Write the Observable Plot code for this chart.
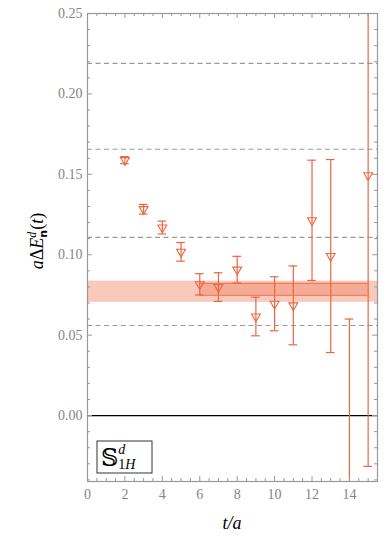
<!DOCTYPE html>
<html><head><meta charset="utf-8">
<script src="https://cdn.jsdelivr.net/npm/d3@7"></script>
<script src="https://cdn.jsdelivr.net/npm/@observablehq/plot@0.6"></script>
<style>
body{margin:0;background:#fff;}
#chart{width:390px;height:539px;}
</style></head><body><div id="chart"></div>
<script>
// ---- data ----
const tValues  = [2, 3, 4, 5, 6, 7, 8, 9, 10, 11, 12, 13, 14, 15];
const energies = [0.1588, 0.1283, 0.1169, 0.1018, 0.0816, 0.0799, 0.0907, 0.0616, 0.0695, 0.0685, 0.1214, 0.0992, -0.070, 0.1494];
const errors   = [0.0022, 0.0030, 0.0040, 0.0058, 0.0066, 0.0089, 0.0083, 0.0120, 0.0168, 0.0245, 0.0374, 0.0600, 0.130, 0.181];
const levels   = [0.219, 0.1656, 0.1108, 0.056];          // dashed reference levels
const wideBand = [0.0704, 0.0836];                        // light band (full range)
const fitBand  = [0.0747, 0.0822];                        // fit result band
const fitRange = [6, 15];                                 // fit window in t/a
const xDomain  = [0, 15.5];
const yDomain  = [-0.041, 0.25];
const xMajor   = [0, 2, 4, 6, 8, 10, 12, 14];
const yMajor   = [0, 0.05, 0.10, 0.15, 0.20, 0.25];

const points = tValues.map((t, i) => ({t, e: energies[i], lo: energies[i] - errors[i], hi: energies[i] + errors[i]}));

const W = 390, H = 539, mL = 87, mR = 13, mT = 13, mB = 58;
const pxX = (W - mL - mR) / (xDomain[1] - xDomain[0]);
const pxY = (H - mT - mB) / (yDomain[1] - yDomain[0]);
const xMinor = d3.range(0, xDomain[1] + 1e-9, 0.5);
const yMinor = d3.range(-4, 26).map(k => k / 100);
const isMajX = v => Math.abs(v / 2 - Math.round(v / 2)) < 1e-9;
const isMajY = v => Math.abs(v / 0.05 - Math.round(v / 0.05)) < 1e-6;
const tl = (maj) => maj ? 5 : 3;

const C = "#ec6640";
const cap = 0.23;
const SERIF = "'Liberation Serif', 'DejaVu Serif', serif";

const fig = Plot.plot({
  width: W, height: H,
  marginLeft: mL, marginRight: mR, marginTop: mT, marginBottom: mB,
  style: {fontFamily: SERIF, fontSize: "14px", background: "white"},
  x: {domain: xDomain, axis: null},
  y: {domain: yDomain, axis: null},
  marks: [
    Plot.rect([wideBand], {x1: xDomain[0], x2: xDomain[1], y1: d => d[0], y2: d => d[1], fill: "#f9c9bb"}),
    Plot.rect([fitBand], {x1: fitRange[0], x2: fitRange[1], y1: d => d[0], y2: d => d[1], fill: C, fillOpacity: 0.3}),
    Plot.ruleY(fitBand, {x1: fitRange[0], x2: fitRange[1], stroke: C, strokeOpacity: 0.7, strokeWidth: 1.3}),
    Plot.ruleY(levels, {stroke: "#9a9a9a", strokeDasharray: "5,3.5", strokeWidth: 1.2}),
    Plot.ruleY([0], {stroke: "black", strokeWidth: 1.3}),
    Plot.ruleX(points, {x: "t", y1: "lo", y2: "hi", stroke: C, strokeWidth: 1.2, clip: true}),
    Plot.ruleY(points, {y: "lo", x1: d => d.t - cap, x2: d => d.t + cap, stroke: C, strokeWidth: 1.2, clip: true}),
    Plot.ruleY(points, {y: "hi", x1: d => d.t - cap, x2: d => d.t + cap, stroke: C, strokeWidth: 1.2, clip: true}),
    Plot.dot(points, {x: "t", y: "e", symbol: "triangle", rotate: 180, r: 3.3, stroke: C, fill: "none", strokeWidth: 1.1, clip: true}),
    // frame ticks (inward)
    Plot.ruleX(xMinor, {x: d => d, y1: yDomain[0], y2: d => yDomain[0] + tl(isMajX(d)) / pxY, stroke: "#999"}),
    Plot.ruleX(xMinor, {x: d => d, y1: yDomain[1], y2: d => yDomain[1] - tl(isMajX(d)) / pxY, stroke: "#999"}),
    Plot.ruleY(yMinor, {y: d => d, x1: xDomain[0], x2: d => xDomain[0] + tl(isMajY(d)) / pxX, stroke: "#999"}),
    Plot.ruleY(yMinor, {y: d => d, x1: xDomain[1], x2: d => xDomain[1] - tl(isMajY(d)) / pxX, stroke: "#999"}),
    Plot.frame({stroke: "#999", strokeWidth: 1.2}),
    Plot.axisX({ticks: xMajor, tickSize: 0, tickPadding: 8, tickFormat: d => String(d), color: "#858585", label: null, fontSize: 14, fontFamily: SERIF}),
    Plot.axisY({ticks: yMajor, tickSize: 0, tickPadding: 5, tickFormat: d3.format(".2f"), color: "#858585", label: null, fontSize: 14, fontFamily: SERIF})
  ]
});

const svg = d3.select(fig);
svg.selectAll("text").attr("font-family", SERIF);
// x title
svg.append("text").attr("x", (mL + W - mR) / 2).attr("y", 529).attr("text-anchor", "middle")
  .attr("font-family", SERIF).attr("font-size", 18).attr("font-style", "italic").attr("fill", "black")
  .text("t/a");
// y title
const yt = svg.append("text").attr("transform", `translate(43,${(mT + H - mB) / 2 - 6}) rotate(-90)`)
  .attr("text-anchor", "middle").attr("font-family", SERIF).attr("font-size", 18).attr("fill", "black");
yt.append("tspan").attr("font-style", "italic").text("a");
yt.append("tspan").text("Δ");
yt.append("tspan").attr("font-style", "italic").text("E");
yt.append("tspan").attr("font-style", "italic").attr("font-size", 12).attr("dy", -7).text("d");
yt.append("tspan").attr("font-family", "DejaVu Sans").attr("font-weight", "bold").attr("font-size", 11).attr("dx", -6).attr("dy", 11).text("n");
yt.append("tspan").attr("dy", -4).text("(");
yt.append("tspan").attr("font-style", "italic").text("t");
yt.append("tspan").text(")");
// legend box
const lg = svg.append("g").attr("transform", `translate(${mL + 10},${H - mB - 40})`);
lg.append("rect").attr("width", 55).attr("height", 32).attr("fill", "white").attr("stroke", "#333").attr("stroke-width", 1);
const lt = lg.append("text").attr("x", 4).attr("y", 25).attr("text-anchor", "start").attr("font-family", SERIF).attr("fill", "black");
lt.append("tspan").attr("font-family", "DejaVu Serif").attr("font-size", 24).text("𝕊");
lt.append("tspan").attr("font-style", "italic").attr("font-size", 14).attr("dy", -12).text("d");
lt.append("tspan").attr("font-size", 14).attr("dx", -7).attr("dy", 15).text("1");
lt.append("tspan").attr("font-style", "italic").attr("font-size", 14).text("H");

document.getElementById("chart").appendChild(fig);
</script></body></html>
